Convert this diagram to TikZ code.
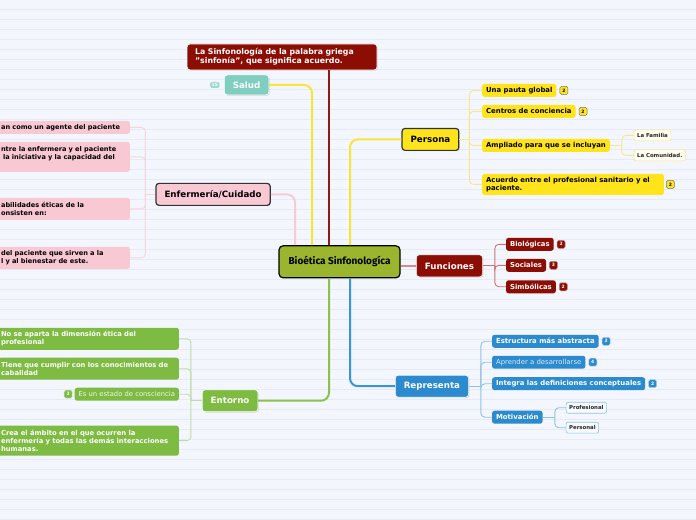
\documentclass[tikz,border=0pt]{standalone}
\usepackage{fontspec}
\setmainfont{DejaVu Sans}
\newfontfamily\corefont{Fira Sans}
\usetikzlibrary{positioning, shadows}

\definecolor{paper}{HTML}{F3F6FD}
\definecolor{ruling}{HTML}{E6EAF5}
\definecolor{coreFill}{HTML}{9CB52F}
\definecolor{sunYellow}{HTML}{FFE41C}
\definecolor{wine}{HTML}{8B0D04}
\definecolor{skyBlue}{HTML}{2B8BCE}
\definecolor{leafGreen}{HTML}{7DBB42}
\definecolor{rosePink}{HTML}{F8C8D3}
\definecolor{tealSalud}{HTML}{7FCEC0}
\definecolor{yelLine}{HTML}{F9E53A}
\definecolor{wineLine}{HTML}{8E1A12}
\definecolor{roseLine}{HTML}{F8CAD4}
\definecolor{grnLine}{HTML}{8EC14C}
\definecolor{bluLine}{HTML}{3A95D8}
\definecolor{funLine}{HTML}{D68A8A}
\definecolor{yelSub}{HTML}{F8E88C}
\definecolor{wineSub}{HTML}{C97474}
\definecolor{bluSub}{HTML}{8EC2EA}
\definecolor{grnSub}{HTML}{BFDDA5}
\definecolor{roseSub}{HTML}{F8D4DC}
\definecolor{cream}{HTML}{FFFDF0}

\begin{document}
\begin{tikzpicture}[x=1pt, y=-1pt,
        core/.style={draw=black, line width=1.2pt, rounded corners=4pt, fill=coreFill,
                     minimum width=121pt, minimum height=32pt,
                     font=\corefont\bfseries\fontsize{10}{12}\selectfont},
        topic/.style={rounded corners=3pt, draw=white, line width=0.6pt, text=white,
                      font=\bfseries\fontsize{8.7}{10}\selectfont, inner xsep=8.5pt,
                      minimum height=22pt,
                      drop shadow={shadow xshift=0.8pt, shadow yshift=-0.8pt, opacity=0.3}},
        dark/.style={draw=black!80, line width=1.2pt, text=black},
        sub/.style={rounded corners=2.5pt, inner xsep=4pt, inner ysep=1pt, minimum height=13pt,
                    font=\bfseries\fontsize{6.9}{8}\selectfont},
        leaf/.style={rounded corners=2pt, line width=0.6pt, inner xsep=3pt, inner ysep=1pt,
                     minimum height=11pt, text=black!85, font=\bfseries\fontsize{5.4}{6}\selectfont},
        badge/.style={rounded corners=1.5pt, line width=0.5pt, minimum size=8pt, inner sep=0pt,
                      font=\bfseries\fontsize{4.5}{5}\selectfont},
        link/.style={line width=2pt, rounded corners=8pt},
        twig/.style={line width=0.9pt, rounded corners=4pt},
        node distance=3pt]
      % paper
      \fill[paper] (0,0) rectangle (696,520);
      \foreach \k in {0,...,51}
        \draw[ruling, line width=0.5pt] (0,9.5+10*\k) -- (696,9.5+10*\k);
      \useasboundingbox (0,0) rectangle (696,520);

      % centre and main topics
      \node[core] (bio) at (339.5,262) {Bioética Sinfonologíca};
      \node[topic, fill=wine, text width=174pt, align=left, inner xsep=8pt, minimum height=26pt,
            font=\bfseries\fontsize{7.8}{9.5}\selectfont] (note) at (282,57)
            {La Sinfonología de la palabra griega\\"sinfonía", que significa acuerdo.};
      \node[topic, fill=tealSalud, minimum height=20pt] (salud) at (246.5,85) {Salud};
      \node[badge, fill=tealSalud!75!white, draw=white, text=white, minimum width=10pt,
            minimum height=7pt, left=4pt of salud] (saludN) {15};
      \node[topic, dark, fill=sunYellow] (persona) at (430.5,139.5) {Persona};
      \node[topic, fill=wine] (funciones) at (449.5,266) {Funciones};
      \node[topic, fill=skyBlue] (representa) at (432,386.5) {Representa};
      \node[topic, fill=leafGreen] (entorno) at (230,401) {Entorno};
      \node[topic, dark, fill=rosePink] (cuidado) at (213,194.5) {Enfermería/Cuidado};

      \coordinate (tA) at ([xshift=-44.5pt]bio.north);
      \coordinate (tB) at ([xshift=-27.5pt]bio.north);
      \coordinate (tC) at ([xshift=-10.5pt]bio.north);
      \coordinate (tD) at ([xshift=10.5pt]bio.north);
      \coordinate (bA) at ([xshift=-10.5pt]bio.south);
      \coordinate (bB) at ([xshift=10.5pt]bio.south);

      \draw[link, roseLine] (cuidado.east) -| (tA);
      \draw[link, yelLine] (salud.east) -| (tB);
      \draw[line width=2.5pt, wineLine] (tC) -- (tC |- note.south);
      \draw[link, yelLine] (tD) |- (persona.west);
      \draw[line width=1.5pt, funLine] (bio.east |- funciones.west) -- (funciones.west);
      \draw[link, grnLine] (bA) |- (entorno.east);
      \draw[link, bluLine] (bB) |- (representa.west);

      % Persona
      \node[sub, fill=sunYellow, anchor=west] (pauta) at (482,90.5) {Una pauta global};
      \node[sub, fill=sunYellow, anchor=west] (centros) at (482,111.5) {Centros de conciencia};
      \node[sub, fill=sunYellow, anchor=west] (ampliado) at (482,145.5) {Ampliado para que se incluyan};
      \node[sub, fill=sunYellow, anchor=west, text width=174pt, align=left, minimum height=21pt]
            (acuerdo) at (482,184.5) {Acuerdo entre el profesional sanitario y el\\paciente.};
      \node[badge, fill=sunYellow, draw=black!55, right=of pauta] (pautaN) {2};
      \node[badge, fill=sunYellow, draw=black!55, right=of centros] (centrosN) {2};
      \node[badge, fill=sunYellow, draw=black!55, right=2pt of acuerdo] (acuerdoN) {2};
      \node[leaf, fill=cream, draw=yelSub, anchor=west] (familia) at (634,135.5) {La Familia};
      \node[leaf, fill=cream, draw=yelSub, anchor=west] (comunidad) at (634,155.5) {La Comunidad.};
      \coordinate (pj) at ([xshift=10pt]persona.east);
      \draw[twig, yelSub] (persona.east) -- (pj);
      \foreach \k in {pauta,centros,ampliado,acuerdo}
        \draw[twig, yelSub] (pj) |- (\k.west);
      \coordinate (aj) at (622,145.5);
      \draw[twig, yelSub] (ampliado.east) -- (aj);
      \foreach \k in {familia,comunidad}
        \draw[twig, yelSub] (aj) |- (\k.west);

      % Funciones
      \node[sub, fill=wine, text=white, anchor=west] (biologicas) at (506,244.5) {Biológicas};
      \node[sub, fill=wine, text=white, anchor=west] (sociales) at (506,265.5) {Sociales};
      \node[sub, fill=wine, text=white, anchor=west] (simbolicas) at (506,287) {Simbólicas};
      \node[badge, fill=wine, draw=wine!50!white, text=white, right=of biologicas] (biologicasN) {2};
      \node[badge, fill=wine, draw=wine!50!white, text=white, right=of sociales] (socialesN) {3};
      \node[badge, fill=wine, draw=wine!50!white, text=white, right=of simbolicas] (simbolicasN) {2};
      \coordinate (fj) at (495,266);
      \draw[twig, wineSub] (funciones.east) -- (fj);
      \foreach \k in {biologicas,sociales,simbolicas}
        \draw[twig, wineSub] (fj) |- (\k.west);

      % Representa
      \node[sub, fill=skyBlue, text=white, anchor=west] (estructura) at (492,341.5) {Estructura más abstracta};
      \node[sub, fill=skyBlue, text=white!82!skyBlue, anchor=west, font=\fontsize{6.9}{8}\selectfont]
            (aprender) at (492,362.5) {Aprender a desarrollarse};
      \node[sub, fill=skyBlue, text=white, anchor=west] (integra) at (492,384) {Integra las definiciones conceptuales};
      \node[sub, fill=skyBlue, text=white, anchor=west] (motivacion) at (492,417.5) {Motivación};
      \node[badge, fill=skyBlue, draw=white!60!skyBlue, text=white, right=of estructura] (estructuraN) {2};
      \node[badge, fill=skyBlue, draw=white!60!skyBlue, text=white, right=of aprender] (aprenderN) {4};
      \node[badge, fill=skyBlue, draw=white!60!skyBlue, text=white, right=of integra] (integraN) {2};
      \node[leaf, fill=white!96!skyBlue, draw=bluSub, anchor=west] (profesional) at (566,408) {Profesional};
      \node[leaf, fill=white!96!skyBlue, draw=bluSub, anchor=west] (personal) at (566,428) {Personal};
      \coordinate (rj) at (481,386.5);
      \draw[twig, bluSub] (representa.east) -- (rj);
      \foreach \k in {estructura,aprender,integra,motivacion}
        \draw[twig, bluSub] (rj) |- (\k.west);
      \coordinate (mj) at (555,417.5);
      \draw[twig, bluSub] (motivacion.east) -- (mj);
      \foreach \k in {profesional,personal}
        \draw[twig, bluSub] (mj) |- (\k.west);

      % Entorno
      \tikzset{green text/.style={sub, fill=leafGreen, text=white, anchor=east, inner xsep=3pt,
               text width=175pt, align=left, font=\bfseries\fontsize{6.8}{8}\selectfont}}
      \node[green text, minimum height=22pt] (dimension) at (179,339)
            {No se aparta la dimensión ética del\\profesional};
      \node[green text, minimum height=22pt] (cumplir) at (179,369)
            {Tiene que cumplir con los conocimientos de\\cabalidad};
      \node[sub, fill=leafGreen, text=white!88!leafGreen, anchor=east, font=\fontsize{6.8}{8}\selectfont]
            (estado) at (179,394.5) {Es un estado de consciencia};
      \node[badge, fill=leafGreen, draw=white!60!leafGreen, text=white, left=2pt of estado] (estadoN) {2};
      \node[green text, minimum height=30pt] (ambito) at (179,441)
            {Crea el ámbito en el que ocurren la\\enfermería y todas las demás interacciones\\humanas.};
      \coordinate (ej) at ([xshift=-11pt]entorno.west);
      \draw[twig, grnSub] (entorno.west) -- (ej);
      \foreach \k in {dimension,cumplir,estado,ambito}
        \draw[twig, grnSub] (ej) |- (\k.east);

      % Enfermeria/Cuidado
      \tikzset{pink text/.style={sub, fill=rosePink, text=black, anchor=east, inner xsep=3pt,
               text width=126pt, align=left, font=\bfseries\fontsize{6.6}{8}\selectfont}}
      \node[pink text] (agente) at (130,127.5) {an como un agente del paciente};
      \node[pink text, minimum height=30pt] (iniciativa) at (130,157)
            {ntre la enfermera y el paciente\\\hspace*{2pt}la iniciativa y la capacidad del\\\mbox{}};
      \node[pink text, minimum height=22pt] (habilidades) at (130,209)
            {abilidades éticas de la\\onsisten en:};
      \node[pink text, minimum height=22pt] (bienestar) at (130,258)
            {del paciente que sirven a la\\l y al bienestar de este.};
      \coordinate (cj) at ([xshift=-10pt]cuidado.west);
      \draw[twig, roseSub] (cuidado.west) -- (cj);
      \foreach \k in {agente,iniciativa,habilidades,bienestar}
        \draw[twig, roseSub] (cj) |- (\k.east);
    \end{tikzpicture}
\end{document}
